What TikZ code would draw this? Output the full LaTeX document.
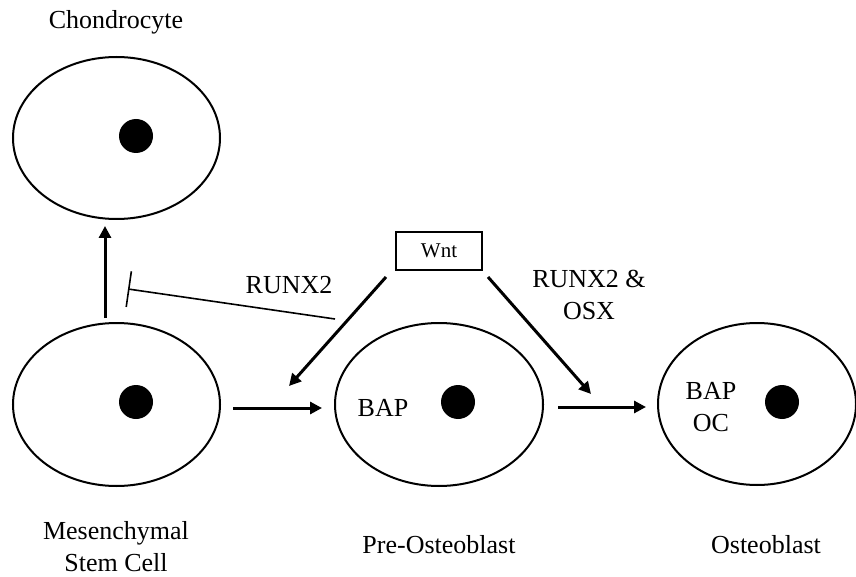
\documentclass[tikz,border=0pt]{standalone}
\usepackage{fontspec}
\setmainfont{Liberation Serif}
\usetikzlibrary{arrows.meta}
\begin{document}
\begin{tikzpicture}[x=1pt,y=-1pt,
  cellline/.style={line width=2pt},
  nuc/.style={fill=black,circle,inner sep=0pt,minimum size=34pt},
  lbl/.style={font=\fontsize{26}{32}\selectfont,align=center,inner sep=0pt},
  arr/.style={line width=3pt,-{Triangle[length=12pt,width=12pt]}},
  inh/.style={line width=1.6pt,-{Bar[width=36pt,line width=1.6pt]}}]
\useasboundingbox (0,0) rectangle (856,577);
% cells
\draw[cellline] (116.5,138) ellipse [x radius=103.5, y radius=81];
\node[nuc] (n1) at (136,136) {};
\draw[cellline] (116.5,404.5) ellipse [x radius=103.5, y radius=81.5];
\node[nuc] (n2) at (136,402) {};
\draw[cellline] (439,404.5) ellipse [x radius=104, y radius=81.5];
\node[nuc] (n3) at (458,402) {};
\draw[cellline] (757,404) ellipse [x radius=99, y radius=81];
\node[nuc] (n4) at (782,402) {};
% labels
\node[lbl] (tc) at (116,22) {Chondrocyte};
\node[lbl] (tm) at (116,547) {Mesenchymal\\Stem Cell};
\node[lbl] (tp) at (439,545) {Pre-Osteoblast};
\node[lbl] (to) at (766,545) {Osteoblast};
\node[lbl] (bap1) at (383,408) {BAP};
\node[lbl] (bap2) at (711,407) {BAP\\OC};
\node[lbl] (r1) at (289,285) {RUNX2};
\node[lbl] (r2) at (589,295) {RUNX2 \&\\OSX};
\node[draw,line width=1.3pt,minimum width=86pt,minimum height=38pt,inner sep=0pt,font=\fontsize{21}{24}\selectfont] (wnt) at (439,251) {Wnt};
% connectors
\coordinate (a1s) at (105,318);
\coordinate (a1e) at (105,226);
\draw[arr] (a1s) -- (a1e);
\coordinate (ihs) at (335,319);
\coordinate (ihe) at (128,289);
\draw[inh] (ihs) -- (ihe);
\coordinate (a2s) at (233,408);
\coordinate (a2e) at (322,408);
\draw[arr] (a2s) -- (a2e);
\coordinate (a3s) at (558,407);
\coordinate (a3e) at (646,407);
\draw[arr] (a3s) -- (a3e);
\coordinate (w1s) at (386,277);
\coordinate (w1e) at (289,386);
\draw[arr] (w1s) -- (w1e);
\coordinate (w2s) at (488,277);
\coordinate (w2e) at (591,394);
\draw[arr] (w2s) -- (w2e);
\end{tikzpicture}
\end{document}
